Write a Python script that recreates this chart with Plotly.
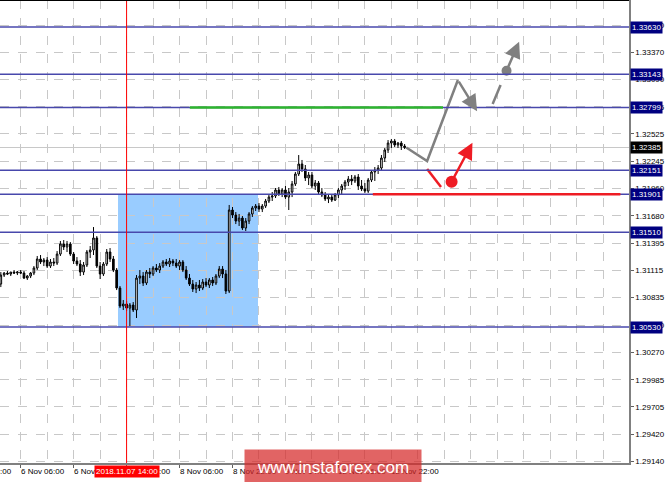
import plotly.graph_objects as go

# ---------------- data ----------------
# H1 bars, bar index counted in trading hours from 6 Nov 2018 06:00
bar_index = list(range(-6, 117))

opens = [
    1.30974, 1.31067, 1.31088, 1.31078, 1.31098, 1.31088, 1.31098, 1.31088, 1.31036, 1.31057,
    1.31088, 1.31140, 1.31233, 1.31202, 1.31222, 1.31160, 1.31202, 1.31191, 1.31284, 1.31388,
    1.31357, 1.31388, 1.31284, 1.31212, 1.31181, 1.31098, 1.31171, 1.31305, 1.31326, 1.31450,
    1.31160, 1.31078, 1.31181, 1.31305, 1.31233, 1.31119, 1.30933, 1.30747, 1.30768, 1.30726,
    1.30757, 1.30706, 1.31036, 1.31057, 1.30985, 1.31098, 1.31078, 1.31140, 1.31119, 1.31160,
    1.31202, 1.31181, 1.31212, 1.31191, 1.31160, 1.31202, 1.31119, 1.31036, 1.30974, 1.30923,
    1.30964, 1.30933, 1.30995, 1.30964, 1.31016, 1.30985, 1.31057, 1.31129, 1.31078, 1.30902,
    1.31739, 1.31687, 1.31625, 1.31656, 1.31553, 1.31625, 1.31698, 1.31760, 1.31780, 1.31749,
    1.31780, 1.31832, 1.31873, 1.31884, 1.31946, 1.31904, 1.31946, 1.31873, 1.31925, 1.32008,
    1.32111, 1.32214, 1.32163, 1.32070, 1.32101, 1.31987, 1.32018, 1.31925, 1.31894, 1.31853,
    1.31873, 1.31842, 1.31894, 1.31946, 1.31987, 1.32028, 1.32059, 1.32039, 1.32080, 1.31987,
    1.31956, 1.31935, 1.32049, 1.32132, 1.32152, 1.32173, 1.32276, 1.32359, 1.32431, 1.32452,
    1.32411, 1.32431, 1.32400,
]
highs = [
    1.31098, 1.31098, 1.31109, 1.31098, 1.31119, 1.31109, 1.31119, 1.31109, 1.31067, 1.31098,
    1.31160, 1.31264, 1.31274, 1.31243, 1.31253, 1.31233, 1.31243, 1.31315, 1.31419, 1.31429,
    1.31419, 1.31408, 1.31305, 1.31253, 1.31222, 1.31202, 1.31326, 1.31367, 1.31563, 1.31470,
    1.31202, 1.31202, 1.31336, 1.31346, 1.31264, 1.31140, 1.30954, 1.30809, 1.30799, 1.30778,
    1.30788, 1.31067, 1.31119, 1.31098, 1.31119, 1.31140, 1.31160, 1.31181, 1.31191, 1.31222,
    1.31233, 1.31243, 1.31233, 1.31233, 1.31222, 1.31222, 1.31160, 1.31078, 1.31016, 1.30995,
    1.31016, 1.31026, 1.31036, 1.31036, 1.31047, 1.31078, 1.31160, 1.31160, 1.31119, 1.31791,
    1.31770, 1.31718, 1.31698, 1.31677, 1.31656, 1.31718, 1.31780, 1.31801, 1.31811, 1.31801,
    1.31853, 1.31894, 1.31925, 1.31966, 1.31977, 1.31966, 1.31987, 1.31966, 1.32039, 1.32132,
    1.32307, 1.32256, 1.32204, 1.32132, 1.32132, 1.32049, 1.32039, 1.31966, 1.31925, 1.31904,
    1.31894, 1.31915, 1.31966, 1.32008, 1.32049, 1.32090, 1.32101, 1.32101, 1.32111, 1.32049,
    1.32018, 1.32070, 1.32152, 1.32183, 1.32204, 1.32307, 1.32380, 1.32462, 1.32473, 1.32473,
    1.32442, 1.32452, 1.32421,
]
lows = [
    1.30943, 1.31047, 1.31067, 1.31057, 1.31078, 1.31067, 1.31078, 1.31026, 1.31016, 1.31036,
    1.31067, 1.31119, 1.31181, 1.31160, 1.31140, 1.31140, 1.31160, 1.31171, 1.31264, 1.31326,
    1.31305, 1.31264, 1.31181, 1.31160, 1.31057, 1.31067, 1.31150, 1.31243, 1.31274, 1.31140,
    1.31026, 1.31057, 1.31160, 1.31202, 1.31098, 1.30912, 1.30726, 1.30706, 1.30695, 1.30540,
    1.30685, 1.30623, 1.30974, 1.30954, 1.30964, 1.31036, 1.31057, 1.31098, 1.31088, 1.31140,
    1.31160, 1.31150, 1.31160, 1.31140, 1.31119, 1.31098, 1.31016, 1.30954, 1.30892, 1.30881,
    1.30902, 1.30912, 1.30943, 1.30933, 1.30954, 1.30964, 1.31036, 1.31036, 1.30871, 1.30881,
    1.31656, 1.31594, 1.31574, 1.31532, 1.31522, 1.31594, 1.31667, 1.31729, 1.31718, 1.31718,
    1.31760, 1.31811, 1.31832, 1.31863, 1.31884, 1.31873, 1.31853, 1.31739, 1.31873, 1.31987,
    1.32090, 1.32132, 1.32039, 1.31997, 1.31966, 1.31946, 1.31904, 1.31873, 1.31832, 1.31811,
    1.31822, 1.31832, 1.31863, 1.31894, 1.31946, 1.31987, 1.31997, 1.32018, 1.31946, 1.31935,
    1.31915, 1.31915, 1.32028, 1.32039, 1.32111, 1.32152, 1.32235, 1.32328, 1.32380, 1.32390,
    1.32380, 1.32359, 1.32369,
]
closes = [
    1.31067, 1.31088, 1.31078, 1.31098, 1.31088, 1.31098, 1.31088, 1.31036, 1.31057, 1.31088,
    1.31140, 1.31233, 1.31202, 1.31222, 1.31160, 1.31202, 1.31191, 1.31284, 1.31388, 1.31357,
    1.31388, 1.31284, 1.31212, 1.31181, 1.31098, 1.31171, 1.31305, 1.31326, 1.31450, 1.31160,
    1.31078, 1.31181, 1.31305, 1.31233, 1.31119, 1.30933, 1.30747, 1.30768, 1.30726, 1.30757,
    1.30706, 1.31036, 1.31057, 1.30985, 1.31098, 1.31078, 1.31140, 1.31119, 1.31160, 1.31202,
    1.31181, 1.31212, 1.31191, 1.31160, 1.31202, 1.31119, 1.31036, 1.30974, 1.30923, 1.30964,
    1.30933, 1.30995, 1.30964, 1.31016, 1.30985, 1.31057, 1.31129, 1.31078, 1.30902, 1.31739,
    1.31687, 1.31625, 1.31656, 1.31553, 1.31625, 1.31698, 1.31760, 1.31780, 1.31749, 1.31780,
    1.31832, 1.31873, 1.31884, 1.31946, 1.31904, 1.31946, 1.31873, 1.31925, 1.32008, 1.32111,
    1.32214, 1.32163, 1.32070, 1.32101, 1.31987, 1.32018, 1.31925, 1.31894, 1.31853, 1.31873,
    1.31842, 1.31894, 1.31946, 1.31987, 1.32028, 1.32059, 1.32039, 1.32080, 1.31987, 1.31956,
    1.31935, 1.32049, 1.32132, 1.32152, 1.32173, 1.32276, 1.32359, 1.32431, 1.32452, 1.32411,
    1.32431, 1.32400, 1.32385,
]

current_price = 1.32385

# time-axis labels (bar index -> label)
time_tick_bars = [-16, 0, 16, 32, 48, 64, 80, 96, 112]
time_tick_labels = ["5 Nov 14:00", "6 Nov 06:00", "6 Nov 22:00", "7 Nov 14:00", "8 Nov 06:00",
                    "8 Nov 22:00", "9 Nov 14:00", "12 Nov 06:00", "12 Nov 22:00"]
grid_bars = list(range(-8, 192, 8))

# price scale ticks
price_ticks = [1.33650, 1.33370, 1.33090, 1.32805, 1.32525, 1.32245, 1.31960, 1.31680,
               1.31395, 1.31115, 1.30835, 1.30550, 1.30270, 1.29985, 1.29705, 1.29420, 1.29140]

# horizontal levels
levels = [1.33630, 1.33143, 1.32799, 1.32151, 1.31901, 1.31510, 1.30530]

# marked bar (vertical red line)
marked_bar = 32
marked_label = "2018.11.07 14:00"

# blue range box
box_bars = [29.4, 71.7]
box_prices = [1.31901, 1.30530]

# green and red horizontal segments
green_bars = [51.1, 127.6]
green_price = 1.32799
red_bars = [106.4, 181.2]
red_price = 1.31901

# forecast paths (bar index, price)
gray_path_bars = [116.5, 122.8, 132.1]
gray_path_prices = [1.32385, 1.32245, 1.33082]
gray_arrow1 = [(132.1, 1.33082), (137.9, 1.32760)]
gray_dash_bars = [142.6, 145.0]
gray_dash_prices = [1.32834, 1.33031]
gray_dot = (146.8, 1.33178)
gray_arrow2_tip = (150.6, 1.33478)

red_seg_bars = [122.8, 127.0]
red_seg_prices = [1.32163, 1.31977]
red_dot = (130.2, 1.32031)
red_arrow_tip = (136.5, 1.32434)

# ---------------- figure ----------------
FONT = "Liberation Sans"
LEVEL_COLOR = "rgb(72,72,172)"
GRAY = "#808080"
RED = "#ee1c24"
GREEN = "#2db52d"
X_RANGE = [-6.25, 183.8]

fig = go.Figure()

fig.add_trace(go.Candlestick(
    x=bar_index, open=opens, high=highs, low=lows, close=closes,
    increasing=dict(line=dict(color="black", width=1), fillcolor="white"),
    decreasing=dict(line=dict(color="black", width=1), fillcolor="black"),
    whiskerwidth=0, hoverinfo="skip",
))

# forecast lines
fig.add_trace(go.Scatter(x=gray_path_bars, y=gray_path_prices, mode="lines",
                         line=dict(color=GRAY, width=2.5), hoverinfo="skip"))
fig.add_trace(go.Scatter(x=gray_dash_bars, y=gray_dash_prices, mode="lines",
                         line=dict(color=GRAY, width=2.5), hoverinfo="skip"))
fig.add_trace(go.Scatter(x=[gray_dot[0]], y=[gray_dot[1]], mode="markers",
                         marker=dict(color=GRAY, size=10), hoverinfo="skip"))
fig.add_trace(go.Scatter(x=red_seg_bars, y=red_seg_prices, mode="lines",
                         line=dict(color=RED, width=2.5), hoverinfo="skip"))
fig.add_trace(go.Scatter(x=[red_dot[0]], y=[red_dot[1]], mode="markers",
                         marker=dict(color=RED, size=12), hoverinfo="skip"))

shapes = []
# blue box
shapes.append(dict(type="rect", xref="x", yref="y", x0=box_bars[0], x1=box_bars[1],
                   y0=box_prices[1], y1=box_prices[0], fillcolor="#99ccff",
                   line=dict(width=0), layer="below"))
# current price line
shapes.append(dict(type="line", xref="paper", yref="y", x0=0, x1=1, y0=current_price,
                   y1=current_price, line=dict(color="#c8c8c8", width=1), layer="below"))
# level lines
for lv in levels:
    shapes.append(dict(type="line", xref="paper", yref="y", x0=0, x1=1, y0=lv, y1=lv,
                       line=dict(color=LEVEL_COLOR, width=1.5)))
# green and red segments
shapes.append(dict(type="line", xref="x", yref="y", x0=green_bars[0], x1=green_bars[1],
                   y0=green_price, y1=green_price, line=dict(color=GREEN, width=2.5)))
shapes.append(dict(type="line", xref="x", yref="y", x0=red_bars[0], x1=red_bars[1],
                   y0=red_price, y1=red_price, line=dict(color=RED, width=2.5)))
# vertical marker line
shapes.append(dict(type="line", xref="x", yref="paper", x0=marked_bar, x1=marked_bar,
                   y0=0, y1=1, line=dict(color="red", width=1)))
# top border
shapes.append(dict(type="line", xref="paper", yref="paper", x0=0, x1=1, y0=1, y1=1,
                   line=dict(color="black", width=2)))

annotations = []
# arrows
annotations.append(dict(x=gray_arrow1[1][0], y=gray_arrow1[1][1], ax=gray_arrow1[0][0],
                        ay=gray_arrow1[0][1], xref="x", yref="y", axref="x", ayref="y",
                        showarrow=True, arrowhead=2, arrowsize=1.3, arrowwidth=2.5,
                        arrowcolor=GRAY, text=""))
annotations.append(dict(x=gray_arrow2_tip[0], y=gray_arrow2_tip[1], ax=gray_dot[0],
                        ay=gray_dot[1], xref="x", yref="y", axref="x", ayref="y",
                        showarrow=True, arrowhead=2, arrowsize=1.3, arrowwidth=2.5,
                        arrowcolor=GRAY, text=""))
annotations.append(dict(x=red_arrow_tip[0], y=red_arrow_tip[1], ax=red_dot[0],
                        ay=red_dot[1], xref="x", yref="y", axref="x", ayref="y",
                        showarrow=True, arrowhead=2, arrowsize=1.3, arrowwidth=2.5,
                        arrowcolor=RED, text=""))


def bar_to_paper(b):
    return (b - X_RANGE[0]) / (X_RANGE[1] - X_RANGE[0])


# time labels (left aligned at tick, MT4 style)
for b, lab in zip(time_tick_bars, time_tick_labels):
    annotations.append(dict(x=bar_to_paper(b), y=0, xref="paper", yref="paper",
                            xanchor="left", yanchor="top", yshift=-2, xshift=-2, text=lab,
                            showarrow=False, font=dict(family=FONT, size=8, color="black")))
# marked time label
annotations.append(dict(x=marked_bar, y=0, xref="x", yref="paper", xanchor="center",
                        yanchor="top", yshift=-2, text=marked_label, showarrow=False,
                        bgcolor="red", borderpad=1,
                        font=dict(family=FONT, size=8, color="white")))
# level labels
for lv in levels:
    annotations.append(dict(x=1, y=lv, xref="paper", yref="y", xanchor="left",
                            yanchor="middle", xshift=1, text=f"{lv:.5f}", showarrow=False,
                            bgcolor="#000080", borderpad=1,
                            font=dict(family=FONT, size=8, color="white")))
# current price label
annotations.append(dict(x=1, y=current_price, xref="paper", yref="y", xanchor="left",
                        yanchor="middle", xshift=1, text=f"{current_price:.5f}",
                        showarrow=False, bgcolor="black", borderpad=1,
                        font=dict(family=FONT, size=8, color="white")))
# watermark (centre at pixel 333, 467 of the 665x482 canvas)
annotations.append(dict(x=333 / 629, y=1 - 467 / 463, xref="paper", yref="paper",
                        text="www.instaforex.com", showarrow=False, width=174, height=32,
                        xanchor="center", yanchor="middle",
                        bgcolor="rgba(214,40,40,0.72)",
                        font=dict(family=FONT, size=17, color="white")))

fig.update_layout(
    width=665, height=482,
    margin=dict(l=0, r=36, t=0, b=19),
    paper_bgcolor="white", plot_bgcolor="white",
    showlegend=False,
    shapes=shapes,
    annotations=annotations,
    xaxis=dict(
        range=X_RANGE,
        rangeslider=dict(visible=False),
        tickmode="array", tickvals=time_tick_bars, ticktext=[""] * len(time_tick_bars),
        ticks="outside", ticklen=3, tickcolor="#606060",
        showgrid=False,
        minor=dict(tickmode="array", tickvals=grid_bars, showgrid=True,
                   gridcolor="#c8c8c8", griddash="dash", gridwidth=1, ticks=""),
        showline=True, linecolor="#808080", linewidth=1.5,
        zeroline=False, fixedrange=True,
    ),
    yaxis=dict(
        side="right",
        range=[1.29125, 1.33909],
        tickmode="array", tickvals=price_ticks,
        ticktext=[f"{p:.5f}" for p in price_ticks],
        ticks="outside", ticklen=3, tickcolor="#606060",
        tickfont=dict(family=FONT, size=8, color="black"),
        showgrid=True, gridcolor="#c8c8c8", griddash="dash", gridwidth=1,
        showline=True, linecolor="#808080", linewidth=1.5,
        zeroline=False, fixedrange=True,
    ),
)

fig.write_html(
    "out.html",
    config={"displayModeBar": False},
    post_script="document.body.style.margin='0px';document.body.style.overflow='hidden';",
)
